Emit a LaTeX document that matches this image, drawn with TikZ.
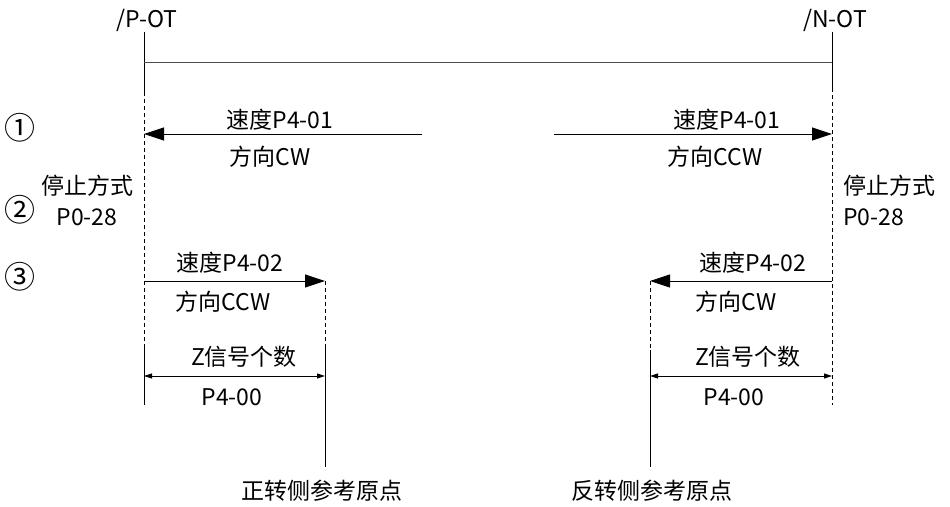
\documentclass[tikz,border=0pt]{standalone}
\usepackage{fontspec}
\setmainfont{Noto Sans CJK SC}
\usetikzlibrary{arrows.meta}
\begin{document}
\begin{tikzpicture}[x=1pt,y=-1pt,
  lbl/.style={inner sep=0pt,font=\fontsize{23}{26}\selectfont},
  circ/.style={inner sep=0pt,font=\fontsize{31}{34}\selectfont},
  ln/.style={line width=0.8pt},
  dsh/.style={line width=0.8pt,dash pattern=on 4pt off 3pt},
  bigarrow/.style={line width=0.8pt,-{Triangle[length=20pt,width=13pt]}},
  dimarrow/.style={line width=0.8pt,{Triangle[length=8pt,width=5pt]}-{Triangle[length=8pt,width=5pt]}}]
\useasboundingbox[fill=white] (0,0) rectangle (950,506);
% coordinates
\coordinate (Ptop) at (144,32);
\coordinate (Pmid) at (144,92);
\coordinate (Pbrk) at (144,345);
\coordinate (Pbot) at (144,405);
\coordinate (Ntop) at (832,32);
\coordinate (Nmid) at (832,88);
\coordinate (Nbot) at (832,405);
\coordinate (TopL) at (144,62);
\coordinate (TopR) at (832,62);
\coordinate (A1Ls) at (422,134);
\coordinate (A1Le) at (144,134);
\coordinate (A1Rs) at (554,134);
\coordinate (A1Re) at (832,134);
\coordinate (A3Ls) at (144,281);
\coordinate (A3Le) at (325,281);
\coordinate (A3Rs) at (832,281);
\coordinate (A3Re) at (650,281);
\coordinate (V1brk) at (325,347);
\coordinate (V1bot) at (325,467);
\coordinate (V2brk) at (650,350);
\coordinate (V2bot) at (650,467);
\coordinate (D1L) at (144,376);
\coordinate (D1R) at (325,376);
\coordinate (D2L) at (650,376);
\coordinate (D2R) at (832,376);
% lines
\draw[ln] (Ptop) -- (Pmid);
\draw[dsh] (Pmid) -- (Pbrk);
\draw[ln] (Pbrk) -- (Pbot);
\draw[ln] (Ntop) -- (Nmid);
\draw[dsh] (Nmid) -- (Nbot);
\draw[line width=0.8pt,black!70] (TopL) -- (TopR);
\draw[bigarrow] (A1Ls) -- (A1Le);
\draw[bigarrow] (A1Rs) -- (A1Re);
\draw[bigarrow] (A3Ls) -- (A3Le);
\draw[bigarrow] (A3Rs) -- (A3Re);
\draw[dsh] (A3Le) -- (V1brk);
\draw[ln] (V1brk) -- (V1bot);
\draw[dsh] (A3Re) -- (V2brk);
\draw[ln] (V2brk) -- (V2bot);
\draw[dimarrow] (D1L) -- (D1R);
\draw[dimarrow] (D2L) -- (D2R);
% texts
\node[lbl] (pot) at (147,20) {/P-OT};
\node[lbl] (not) at (835,20) {/N-OT};
\node[circ] (c1) at (20,128) {①};
\node[circ] (c2) at (20,210) {②};
\node[circ] (c3) at (20,277) {③};
\node[lbl] (s1l) at (280,120) {速度P4-01};
\node[lbl] (d1l) at (270,157) {方向CW};
\node[lbl] (s1r) at (727,120) {速度P4-01};
\node[lbl] (d1r) at (715,157) {方向CCW};
\node[lbl] (stl) at (87,186) {停止方式};
\node[lbl] (pl) at (87,217) {P0-28};
\node[lbl,anchor=west] (str) at (843,186) {停止方式};
\node[lbl,anchor=west] (pr) at (843,217) {P0-28};
\node[lbl] (s3l) at (230,263) {速度P4-02};
\node[lbl] (d3l) at (223,302) {方向CCW};
\node[lbl] (s3r) at (753,263) {速度P4-02};
\node[lbl] (d3r) at (736,302) {方向CW};
\node[lbl] (zl) at (244,357) {Z信号个数};
\node[lbl] (ql) at (232,397) {P4-00};
\node[lbl] (zr) at (748,357) {Z信号个数};
\node[lbl] (qr) at (734,397) {P4-00};
\node[lbl] (ol) at (322,491) {正转侧参考原点};
\node[lbl] (or) at (652,491) {反转侧参考原点};
\end{tikzpicture}
\end{document}
